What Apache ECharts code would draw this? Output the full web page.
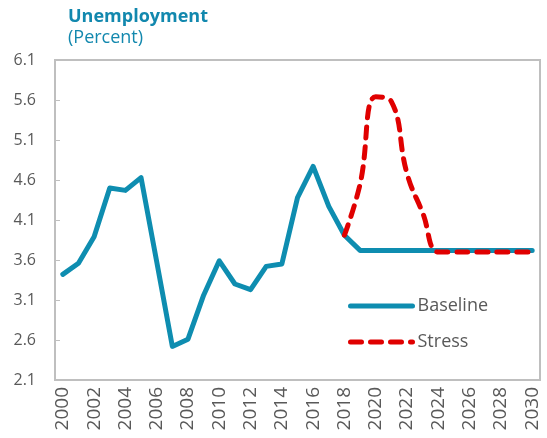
<!DOCTYPE html>
<html>
<head>
<meta charset="utf-8">
<script src="https://cdn.jsdelivr.net/npm/echarts@6/dist/echarts.min.js"></script>
<style>
  html, body { margin: 0; padding: 0; background: #fff; }
  #chart { width: 547px; height: 438px; }
</style>
</head>
<body>
<div id="chart"></div>
<script>
// years on the x axis
var years = [];
for (var y = 2000; y <= 2030; y++) years.push(String(y));

// baseline unemployment rate, percent
var baseline = [3.42, 3.56, 3.89, 4.50, 4.47, 4.63, 3.58, 2.52, 2.61, 3.16,
  3.59, 3.30, 3.23, 3.52, 3.55, 4.38, 4.77, 4.27, 3.91, 3.72,
  3.72, 3.72, 3.72, 3.72, 3.72, 3.72, 3.72, 3.72, 3.72, 3.72, 3.72];

// stress scenario, starts in 2018
var stress = [null, null, null, null, null, null, null, null, null, null,
  null, null, null, null, null, null, null, null, 3.91, 4.55,
  5.64, 5.58, 4.68, 4.19, 3.70, 3.70, 3.70, 3.70, 3.70, 3.70, 3.70];

var gray = "#bfbfbf";
var labelColor = "#595959";
var teal = "#1288ae";

var chart = echarts.init(document.getElementById("chart"));

var option = {
  animation: false,
  textStyle: { fontFamily: "Open Sans" },
  title: {
    text: "Unemployment",
    subtext: "(Percent)",
    left: 63,
    top: 3,
    itemGap: 3,
    textStyle: { color: teal, fontSize: 18, fontWeight: "bold", fontFamily: "Open Sans" },
    subtextStyle: { color: teal, fontSize: 18, fontFamily: "Open Sans" }
  },
  legend: {
    orient: "vertical",
    left: 348,
    top: 296,
    padding: 0,
    itemWidth: 62,
    itemHeight: 14,
    itemGap: 16,
    // hide the marker dot, keep only the line
    itemStyle: { opacity: 0 },
    lineStyle: { width: 5, cap: "round" },
    textStyle: { color: labelColor, fontSize: 18, lineHeight: 20, fontFamily: "Open Sans" },
    data: ["Baseline", "Stress"]
  },
  grid: {
    left: 55,
    top: 60,
    right: 7,
    bottom: 58,
    show: true,
    borderColor: gray,
    borderWidth: 2
  },
  xAxis: {
    type: "category",
    data: years,
    boundaryGap: true,
    axisLine: { lineStyle: { color: gray, width: 2 } },
    axisTick: { inside: true, length: 5, interval: 0, lineStyle: { color: gray } },
    axisLabel: {
      rotate: 90,
      interval: 1,
      margin: 7,
      color: labelColor,
      fontSize: 19,
      fontFamily: "Open Sans"
    },
    splitLine: { show: false }
  },
  yAxis: {
    type: "value",
    min: 2.1,
    max: 6.1,
    interval: 0.5,
    axisLine: { show: true, lineStyle: { color: gray, width: 2 } },
    axisTick: { show: true, inside: true, length: 5, lineStyle: { color: gray } },
    axisLabel: {
      margin: 19,
      color: labelColor,
      fontSize: 16,
      fontFamily: "Open Sans",
      formatter: function (v) { return v.toFixed(1); }
    },
    splitLine: { show: false }
  },
  series: [
    {
      name: "Baseline",
      type: "line",
      data: baseline,
      symbol: "none",
      itemStyle: { color: "#0e8db0" },
      lineStyle: { color: "#0e8db0", width: 5, cap: "round", join: "round" }
    },
    {
      name: "Stress",
      type: "line",
      data: stress,
      symbol: "none",
      smooth: 0.45,
      z: 3,
      itemStyle: { color: "#e00000" },
      lineStyle: { color: "#e00000", width: 5, type: [11, 9], cap: "round" }
    }
  ]
};

chart.setOption(option);
</script>
</body>
</html>
